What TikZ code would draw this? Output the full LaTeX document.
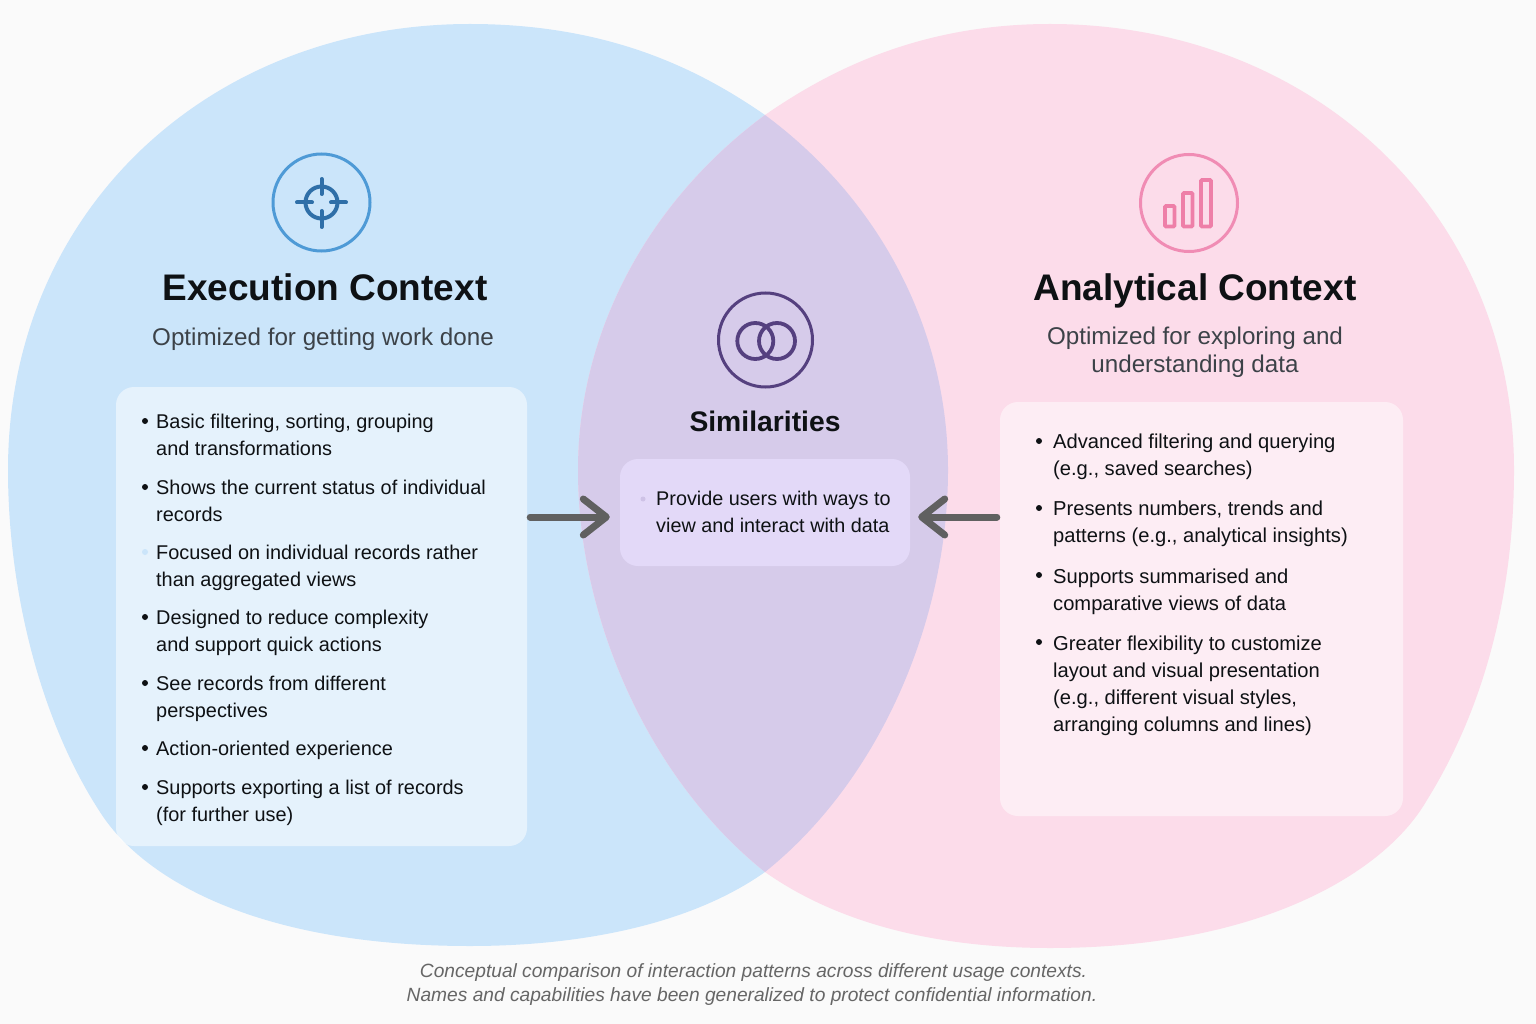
\documentclass[tikz,border=0pt]{standalone}
\usepackage{fontspec}
\setmainfont{Liberation Sans}
\usetikzlibrary{arrows.meta,positioning,calc}
\definecolor{bgc}{HTML}{FAFAFA}
\definecolor{bluec}{HTML}{CBE5FA}
\definecolor{pinkc}{HTML}{FCDCEA}
\definecolor{overc}{HTML}{D6CBEA}
\definecolor{inkc}{HTML}{0E1114}
\definecolor{subc}{HTML}{3C4248}
\definecolor{arrc}{HTML}{606060}
\definecolor{capc}{HTML}{666666}
\definecolor{ringb}{HTML}{4E9AD6}
\definecolor{iconb}{HTML}{2F6FA8}
\definecolor{ringv}{HTML}{55407F}
\definecolor{ringp}{HTML}{F08CB4}
\definecolor{iconp}{HTML}{EE7FA8}
\definecolor{midp}{HTML}{E3D9F8}
\tikzset{
 panel/.style={rectangle,rounded corners=18pt,inner sep=0pt,fill=white,fill opacity=.5},
 title/.style={anchor=base,inner sep=0pt,text=inkc,font=\fontsize{37}{40}\selectfont\bfseries},
 midtitle/.style={anchor=base,inner sep=0pt,text=inkc,font=\fontsize{28.3}{32}\selectfont\bfseries},
 subt/.style={anchor=base,inner sep=0pt,text=subc,align=center,font=\fontsize{24.2}{28}\selectfont},
 itemt/.style={inner sep=0pt,text=inkc,align=left,font=\fontsize{19.9}{27}\selectfont},
 bul/.style={circle,fill=inkc,inner sep=0pt,minimum size=6pt},
 captext/.style={anchor=base,inner sep=0pt,text=capc,font=\fontsize{19.17}{24}\selectfont\itshape},
 conn/.style={draw=arrc,line width=7pt,line cap=round,shorten <=3pt,shorten >=10pt,-{Straight Barb[length=23pt,width=36pt,line width=7pt,round]}},
}
\newcommand{\blueblob}{(8,470) .. controls (8,210) and (210,24) .. (470,24) .. controls (610,24) and (700,70) .. (765,115) .. controls (880,200) and (948,330) .. (948,470) .. controls (948,620) and (880,780) .. (765,872) .. controls (690,925) and (580,946) .. (470,946) .. controls (250,946) and (140,875) .. (100,812) .. controls (40,720) and (8,590) .. (8,470) -- cycle}
\newcommand{\pinkblob}{(1514,470) .. controls (1514,210) and (1310,24) .. (1050,24) .. controls (920,24) and (830,70) .. (765,115) .. controls (650,200) and (578,330) .. (578,470) .. controls (578,620) and (650,780) .. (765,872) .. controls (840,925) and (940,948) .. (1050,948) .. controls (1260,948) and (1385,873) .. (1427,800) .. controls (1486,705) and (1514,590) .. (1514,470) -- cycle}
\begin{document}
\begin{tikzpicture}[x=1pt,y=-1pt]
\useasboundingbox (0,0) rectangle (1536,1024);
\fill[bgc] (0,0) rectangle (1536,1024);
\fill[bluec] \blueblob;
\fill[pinkc] \pinkblob;
\begin{scope}
\clip \blueblob;
\fill[overc] \pinkblob;
\end{scope}
% panels
\node[panel,minimum width=411pt,minimum height=459pt] (panelL) at (321.5,616.5) {};
\node[panel,minimum width=403pt,minimum height=414pt] (panelR) at (1201.5,609) {};
\node[rectangle,rounded corners=18pt,inner sep=0pt,fill=midp,minimum width=290pt,minimum height=107pt] (panelM) at (765,512.5) {};
% icons
\node[circle,draw=ringb,line width=3pt,minimum size=97pt,inner sep=0pt] (iconL) at (321.5,202.5) {};
\draw[iconb,line width=4pt] (iconL.center) circle (16pt);
\draw[iconb,line width=4pt,line cap=round] (321.5,179) -- (321.5,194) (321.5,211) -- (321.5,227) (297,202.5) -- (312,202.5) (331,202.5) -- (346,202.5);
\node[circle,draw=ringv,line width=3pt,minimum size=94pt,inner sep=0pt] (iconM) at (765.5,340) {};
\draw[ringv,line width=3.8pt] (755.3,341) circle (18pt) (777,341) circle (18pt);
\node[circle,draw=ringp,line width=3pt,minimum size=97pt,inner sep=0pt] (iconR) at (1189,203) {};
\begin{scope}[draw=iconp,line width=3.6pt,rounded corners=1pt]
\draw (1165,206) rectangle (1174.5,226.5);
\draw (1183,193) rectangle (1192.5,226.5);
\draw (1201,180) rectangle (1211,226.5);
\end{scope}
% titles
\node[title] (titleL) at (325,301) {Execution Context};
\node[subt] (subL) at (323,345) {Optimized for getting work done};
\node[title] (titleR) at (1195,301) {Analytical Context};
\node[subt] (subR) at (1195,372) {Optimized for exploring and\\understanding data};
\node[midtitle] (titleM) at (765,431) {Similarities};
% left list: bullet centre / baseline of the last line
\foreach \y/\b/\t/\c [count=\i] in {
 421/455/{Basic filtering, sorting, grouping\\and transformations}/inkc,
 487/521/{Shows the current status of individual\\records}/inkc,
 552/586/{Focused on individual records rather\\than aggregated views}/bluec,
 617/651/{Designed to reduce complexity\\and support quick actions}/inkc,
 683/717/{See records from different\\perspectives}/inkc,
 748/755/{Action-oriented experience}/inkc,
 787/821/{Supports exporting a list of records\\(for further use)}/inkc}{
 \node[itemt,anchor=base west] (li\i) at (156,\b) {\t};
 \node[bul,fill=\c] (lb\i) at (145,\y) {};
}
% right list
\foreach \y/\b/\t [count=\i] in {
 441/475/{Advanced filtering and querying\\(e.g., saved searches)},
 508/542/{Presents numbers, trends and\\patterns (e.g., analytical insights)},
 575/610/{Supports summarised and\\comparative views of data},
 642/731/{Greater flexibility to customize\\layout and visual presentation\\(e.g., different visual styles,\\arranging columns and lines)}}{
 \node[itemt,anchor=base west,font=\fontsize{20.15}{27}\selectfont] (ri\i) at (1053,\b) {\t};
 \node[bul] (rb\i) at (1039,\y) {};
}
\node[itemt,anchor=base west,font=\fontsize{19.8}{27}\selectfont] (mi) at (656,532) {Provide users with ways to\\view and interact with data};
\node[bul,fill=midp!85!ringv,minimum size=5pt] (mb) at (643,499) {};
% connectors
\coordinate (ay) at (0,517);
\draw[conn] (panelL.east |- ay) -- (panelM.west |- ay);
\draw[conn,shorten >=8pt] (panelR.west |- ay) -- (panelM.east |- ay);
% caption
\node[captext] (cap1) at (753.5,977) {Conceptual comparison of interaction patterns across different usage contexts.};
\node[captext] (cap2) at (752,1001) {Names and capabilities have been generalized to protect confidential information.};
\end{tikzpicture}
\end{document}
